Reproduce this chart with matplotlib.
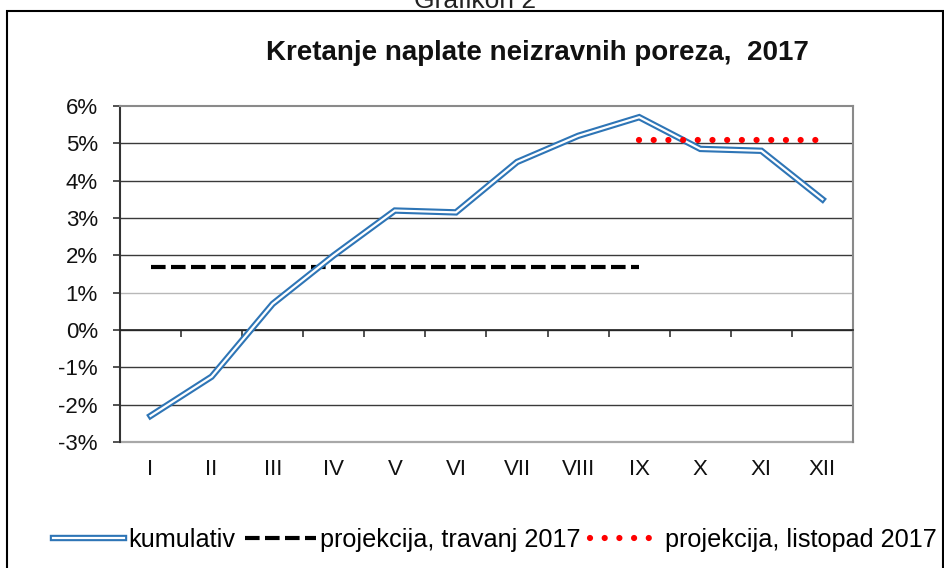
import matplotlib
matplotlib.use("Agg")
import matplotlib.pyplot as plt
from matplotlib.patches import Rectangle
from matplotlib.ticker import StrMethodFormatter
import matplotlib.transforms as mtransforms

plt.rcParams['font.family'] = ['Liberation Sans', 'DejaVu Sans']
plt.rcParams['axes.unicode_minus'] = False

# Data
months = ['I', 'II', 'III', 'IV', 'V', 'VI', 'VII', 'VIII', 'IX', 'X', 'XI', 'XII']
kumulativ = [-2.3, -1.25, 0.7, 2.0, 3.2, 3.15, 4.5, 5.2, 5.7, 4.85, 4.8, 3.5]
proj_travanj = [1.7] * 9          # I .. IX
proj_listopad = [5.1] * 4         # IX .. XII

title = 'Kretanje naplate neizravnih poreza,  2017'
blue = '#2E75B6'

fig = plt.figure(figsize=(9.44, 5.68), dpi=100)
ax = fig.add_axes([0.1271, 0.2218, 0.7765, 0.5916])

x = list(range(len(months)))

# double blue line: wide blue with thin white core
l_blue, = ax.plot(x, kumulativ, color=blue, lw=4.6, solid_joinstyle='miter', zorder=4)
l_white, = ax.plot(x, kumulativ, color='white', lw=1.6, solid_joinstyle='miter', zorder=5)

l_black, = ax.plot(x[:len(proj_travanj)], proj_travanj, color='black', lw=3.0,
                   dashes=(3.5, 1.3), dash_capstyle='butt', zorder=3)
l_red, = ax.plot(x[8:8 + len(proj_listopad)], proj_listopad, color='#FF0000', lw=4.5,
                 dashes=(0.001, 2.35), dash_capstyle='round', zorder=6)

# axes styling
ax.set_xlim(-0.5, len(months) - 0.5)
ax.set_ylim(-3, 6)
ax.set_yticks(range(-3, 7))
ax.yaxis.set_major_formatter(StrMethodFormatter('{x:.0f}%'))
ax.tick_params(axis='y', direction='out', length=5, width=1.2, color='#333333',
               labelsize=16, pad=11, labelcolor='#111111')

ax.yaxis.grid(True, color='#3a3a3a', lw=1.0)
ax.set_axisbelow(True)
grid = ax.yaxis.get_gridlines()
grid[0].set_visible(False)
grid[4].set_color('#b8b8b8')   # 1%
grid[-1].set_visible(False)
ax.axhline(-3, color='#a8a8a8', lw=1.6, clip_on=False, zorder=1)

for side in ['top', 'right']:
    ax.spines[side].set_color('#8a8a8a')
    ax.spines[side].set_linewidth(1.5)
ax.spines['left'].set_color('#333333')
ax.spines['left'].set_linewidth(1.5)
ax.spines['bottom'].set_position(('data', 0))
ax.spines['bottom'].set_color('#222222')
ax.spines['bottom'].set_linewidth(1.2)

ax.set_xticks([i - 0.5 for i in range(len(months) + 1)])
ax.set_xticklabels([])
ax.tick_params(axis='x', direction='out', length=5, width=1.2, color='#333333')

trans = mtransforms.blended_transform_factory(ax.transData, ax.transAxes)
for i, m in enumerate(months):
    ax.text(i, -0.083, m, transform=trans, ha='center', va='center',
            fontsize=16, color='#111111')

# titles (the caption above the frame is cut off at the top, as in the source)
fig.text(475 / 944, 1 - 8 / 568, 'Grafikon 2', ha='center', va='baseline',
         fontsize=19, color='#222222')
fig.text(537 / 944, 1 - 53 / 568, title, ha='center', va='center',
         fontsize=20, fontweight='bold', color='#111111')

# frame around the chart
fig.patches.append(Rectangle((7 / 944, -0.1), 936 / 944, 1.1 - 11.5 / 568,
                             transform=fig.transFigure, fill=False,
                             edgecolor='black', lw=1.5))

leg = fig.legend([(l_blue, l_white), l_black, l_red],
                 ['kumulativ', 'projekcija, travanj 2017', 'projekcija, listopad 2017'],
                 loc='center', bbox_to_anchor=(495 / 944, 1 - 540 / 568), ncol=3,
                 frameon=False, fontsize=18.2, handlelength=2.8, handletextpad=0.15,
                 columnspacing=0.4, borderaxespad=0, borderpad=0)

fig.savefig('out.png', dpi=100)
